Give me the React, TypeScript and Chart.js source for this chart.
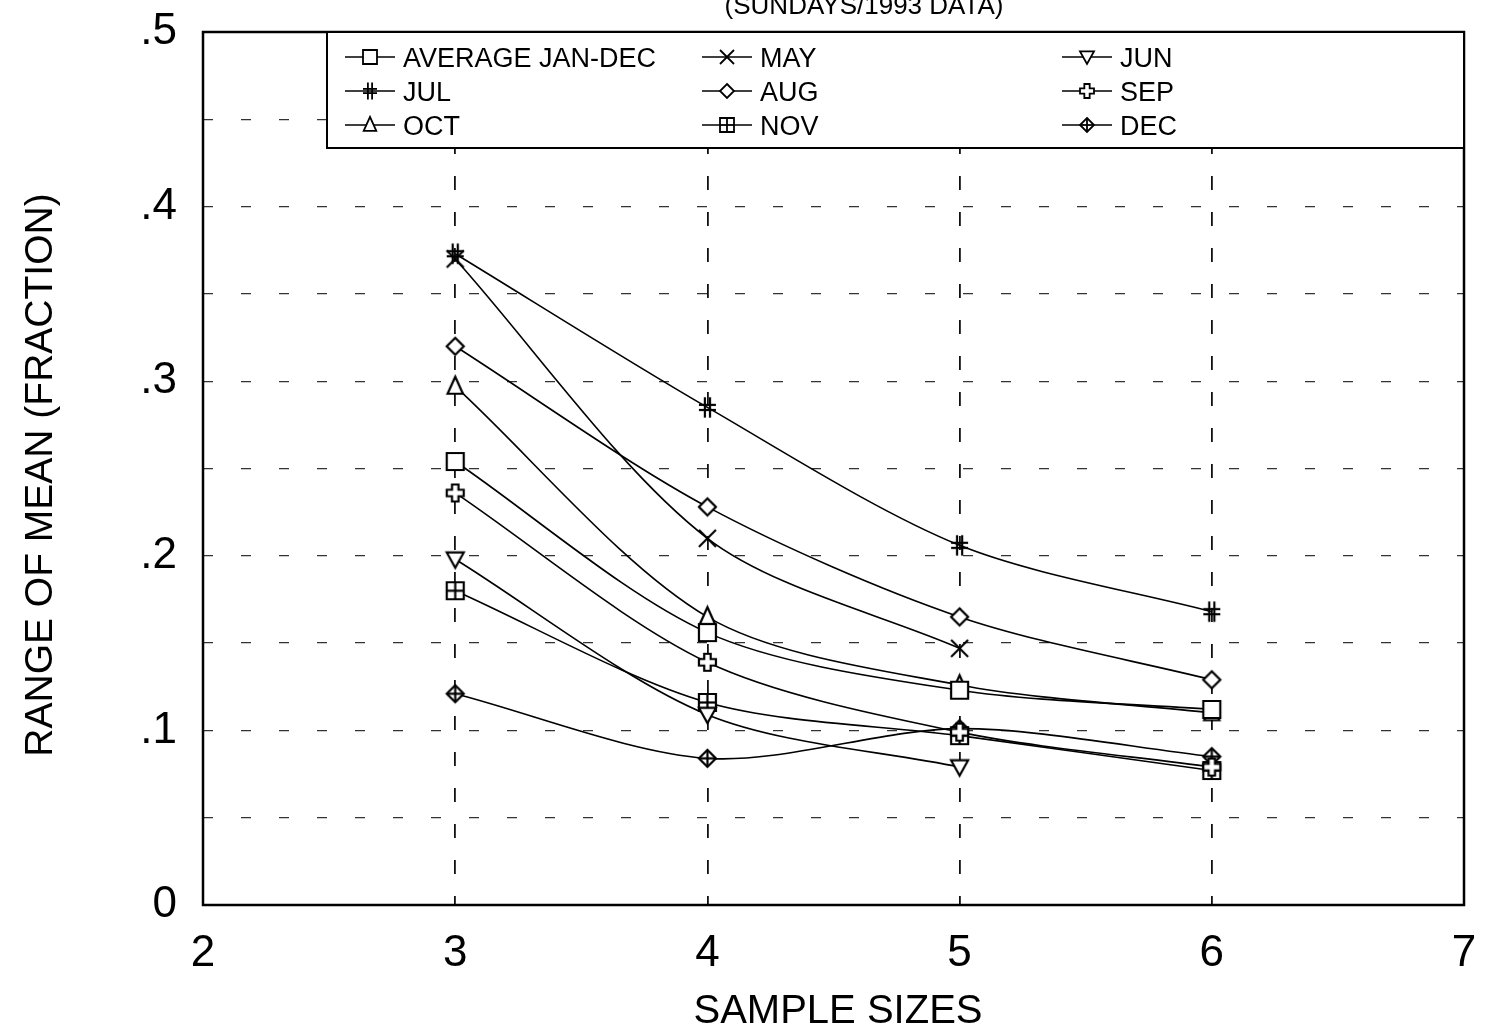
import React, { useEffect, useRef } from 'react';
import { Chart, registerables } from 'chart.js';

Chart.register(...registerables);

// ---- data ----
const sampleSizes = [3, 4, 5, 6];
const xTickValues = [2, 3, 4, 5, 6, 7];
const yTickLabels = ['0', '.1', '.2', '.3', '.4', '.5'];

const avgJanDec = [0.254, 0.156, 0.123, 0.112];
const may = [0.37, 0.21, 0.147];
const jun = [0.198, 0.109, 0.079];
const jul = [0.373, 0.285, 0.206, 0.168];
const aug = [0.32, 0.228, 0.165, 0.129];
const sep = [0.236, 0.139, 0.099, 0.079];
const oct = [0.297, 0.165, 0.126, 0.11];
const nov = [0.18, 0.116, 0.097, 0.077];
const dec = [0.121, 0.084, 0.101, 0.085];

const seriesLabels = ['AVERAGE JAN-DEC', 'MAY', 'JUN', 'JUL', 'AUG', 'SEP', 'OCT', 'NOV', 'DEC'];
const seriesValues = [avgJanDec, may, jun, jul, aug, sep, oct, nov, dec];
const seriesMarkers = ['square', 'x', 'triDown', 'hash', 'diamond', 'fatCross', 'triUp', 'squarePlus', 'diamondPlus'];

const FONT = '"Liberation Sans", Arial, Helvetica, sans-serif';

function drawMarker(ctx: CanvasRenderingContext2D, kind: string, cx: number, cy: number, r: number, lw: number) {
  ctx.save();
  ctx.lineWidth = lw;
  ctx.strokeStyle = '#000';
  ctx.fillStyle = '#fff';
  ctx.lineJoin = 'miter';
  const poly = (pts: number[][]) => {
    ctx.beginPath();
    pts.forEach((p, i) => (i ? ctx.lineTo(p[0], p[1]) : ctx.moveTo(p[0], p[1])));
    ctx.closePath();
    ctx.fill();
    ctx.stroke();
  };
  const line = (x1: number, y1: number, x2: number, y2: number) => {
    ctx.beginPath();
    ctx.moveTo(x1, y1);
    ctx.lineTo(x2, y2);
    ctx.stroke();
  };
  switch (kind) {
    case 'square':
      poly([[cx - r, cy - r], [cx + r, cy - r], [cx + r, cy + r], [cx - r, cy + r]]);
      break;
    case 'squarePlus':
      poly([[cx - r, cy - r], [cx + r, cy - r], [cx + r, cy + r], [cx - r, cy + r]]);
      line(cx, cy - r, cx, cy + r);
      line(cx - r, cy, cx + r, cy);
      break;
    case 'x':
      line(cx - r, cy - r, cx + r, cy + r);
      line(cx - r, cy + r, cx + r, cy - r);
      break;
    case 'triDown':
      poly([[cx - r, cy - r * 0.8], [cx + r, cy - r * 0.8], [cx, cy + r]]);
      break;
    case 'triUp':
      poly([[cx, cy - r * 1.15], [cx + r * 0.9, cy + r * 0.85], [cx - r * 0.9, cy + r * 0.85]]);
      break;
    case 'hash':
      line(cx - r * 0.3, cy - r * 1.2, cx - r * 0.3, cy + r * 1.2);
      line(cx + r * 0.3, cy - r * 1.2, cx + r * 0.3, cy + r * 1.2);
      line(cx - r, cy - r * 0.3, cx + r, cy - r * 0.3);
      line(cx - r, cy + r * 0.3, cx + r, cy + r * 0.3);
      break;
    case 'diamond':
      poly([[cx, cy - r], [cx + r, cy], [cx, cy + r], [cx - r, cy]]);
      break;
    case 'diamondPlus':
      poly([[cx, cy - r], [cx + r, cy], [cx, cy + r], [cx - r, cy]]);
      line(cx, cy - r, cx, cy + r);
      line(cx - r, cy, cx + r, cy);
      break;
    case 'fatCross': {
      const a = r * 0.38;
      poly([
        [cx - a, cy - r], [cx + a, cy - r], [cx + a, cy - a], [cx + r, cy - a], [cx + r, cy + a],
        [cx + a, cy + a], [cx + a, cy + r], [cx - a, cy + r], [cx - a, cy + a], [cx - r, cy + a],
        [cx - r, cy - a], [cx - a, cy - a],
      ]);
      break;
    }
  }
  ctx.restore();
}

function makeMarkerCanvas(kind: string, r: number, lw: number): HTMLCanvasElement {
  const size = Math.ceil(r * 2.6 + lw * 2 + 2);
  const c = document.createElement('canvas');
  c.width = size;
  c.height = size;
  const ctx = c.getContext('2d')!;
  drawMarker(ctx, kind, size / 2, size / 2, r, lw);
  return c;
}

const overlayPlugin = {
  id: 'overlay',
  afterDraw(chart: any) {
    const ctx: CanvasRenderingContext2D = chart.ctx;
    const a = chart.chartArea;
    ctx.save();
    // frame
    ctx.strokeStyle = '#000';
    ctx.lineWidth = 2.5;
    ctx.strokeRect(a.left, a.top, a.right - a.left, a.bottom - a.top);

    // legend box
    const lx = 327, ly = a.top, lw = a.right - 327, lh = 148 - a.top;
    ctx.fillStyle = '#fff';
    ctx.fillRect(lx, ly, lw, lh);
    ctx.lineWidth = 2;
    ctx.strokeRect(lx, ly, lw, lh);

    const colX = [345, 702, 1062];
    const rowBase = [67, 101, 135];
    ctx.font = `27px ${FONT}`;
    ctx.textAlign = 'left';
    ctx.textBaseline = 'alphabetic';
    seriesLabels.forEach((lab, i) => {
      const col = i % 3;
      const row = Math.floor(i / 3);
      const x0 = colX[col];
      const yb = rowBase[row];
      const cy = yb - 10;
      ctx.strokeStyle = '#000';
      ctx.lineWidth = 1.5;
      ctx.beginPath();
      ctx.moveTo(x0, cy);
      ctx.lineTo(x0 + 50, cy);
      ctx.stroke();
      drawMarker(ctx, seriesMarkers[i], x0 + 25, cy, 7, 1.8);
      ctx.fillStyle = '#000';
      ctx.fillText(lab, x0 + 58, yb);
    });

    // title (partly cut at top)
    ctx.fillStyle = '#000';
    ctx.font = `26px ${FONT}`;
    ctx.textAlign = 'center';
    ctx.fillText('(SUNDAYS/1993 DATA)', 864, 14);

    // x axis title
    ctx.font = `40px ${FONT}`;
    ctx.fillText('SAMPLE SIZES', 838, 1023);

    // y axis title
    ctx.save();
    ctx.translate(52, 475);
    ctx.rotate(-Math.PI / 2);
    ctx.font = `39px ${FONT}`;
    ctx.textAlign = 'center';
    ctx.fillText('RANGE OF MEAN (FRACTION)', 0, 0);
    ctx.restore();

    ctx.restore();
  },
};

export default function App() {
  const ref = useRef<HTMLCanvasElement | null>(null);

  useEffect(() => {
    if (!ref.current) return;
    const datasets = seriesValues.map((vals, i) => ({
      label: seriesLabels[i],
      data: vals.map((v, j) => ({ x: sampleSizes[j], y: v })),
      borderColor: '#000',
      backgroundColor: '#fff',
      borderWidth: 1.6,
      tension: 0.3,
      fill: false,
      pointStyle: makeMarkerCanvas(seriesMarkers[i], 8.5, 2.2) as any,
      pointRadius: 9,
      pointHoverRadius: 9,
    }));

    const chart = new Chart(ref.current, {
      type: 'line',
      data: { datasets },
      plugins: [overlayPlugin],
      options: {
        animation: false,
        responsive: false,
        events: [],
        layout: { padding: { top: 32, right: 22, bottom: 0, left: 0 } },
        plugins: { legend: { display: false }, title: { display: false }, tooltip: { enabled: false } },
        scales: {
          x: {
            type: 'linear',
            min: xTickValues[0],
            max: xTickValues[xTickValues.length - 1],
            afterBuildTicks: (scale: any) => {
              scale.ticks = xTickValues.map((v) => ({ value: v }));
            },
            afterFit: (scale: any) => {
              scale.height = 130;
              scale.paddingLeft = 0;
              scale.paddingRight = 0;
              scale.paddingTop = 0;
              scale.paddingBottom = 0;
            },
            ticks: {
              color: '#000',
              font: { family: FONT, size: 44 },
              padding: 22,
              callback: (v: any) => String(v),
              maxRotation: 0,
            },
            grid: {
              drawTicks: false,
              color: (c: any) => (c.tick && (c.tick.value === 2 || c.tick.value === 7) ? 'rgba(0,0,0,0)' : '#111'),
              lineWidth: 1.8,
            },
            border: { display: false, dash: [14, 22] },
          },
          y: {
            type: 'linear',
            min: 0,
            max: 0.5,
            afterBuildTicks: (scale: any) => {
              const t = [];
              for (let k = 0; k <= 10; k++) t.push({ value: k * 0.05 });
              scale.ticks = t;
            },
            afterFit: (scale: any) => {
              scale.width = 203;
              scale.paddingLeft = 0;
              scale.paddingRight = 0;
              scale.paddingTop = 0;
              scale.paddingBottom = 0;
            },
            ticks: {
              color: '#000',
              font: { family: FONT, size: 44 },
              padding: 26,
              callback: (v: any) => {
                const k = Math.round(v * 20);
                return k % 2 === 0 ? yTickLabels[k / 2] : '';
              },
            },
            grid: {
              drawTicks: false,
              color: (c: any) => (c.tick && (c.tick.value < 0.01 || c.tick.value > 0.49) ? 'rgba(0,0,0,0)' : '#333'),
              lineWidth: 1.3,
            },
            border: { display: false, dash: [10, 28] },
          },
        },
      },
    });
    return () => chart.destroy();
  }, []);

  return (
    <div style={{ position: 'absolute', left: 0, top: 0, width: 1486, height: 1035, background: '#fff' }}>
      <canvas ref={ref} width={1486} height={1035} style={{ display: 'block' }} />
    </div>
  );
}
